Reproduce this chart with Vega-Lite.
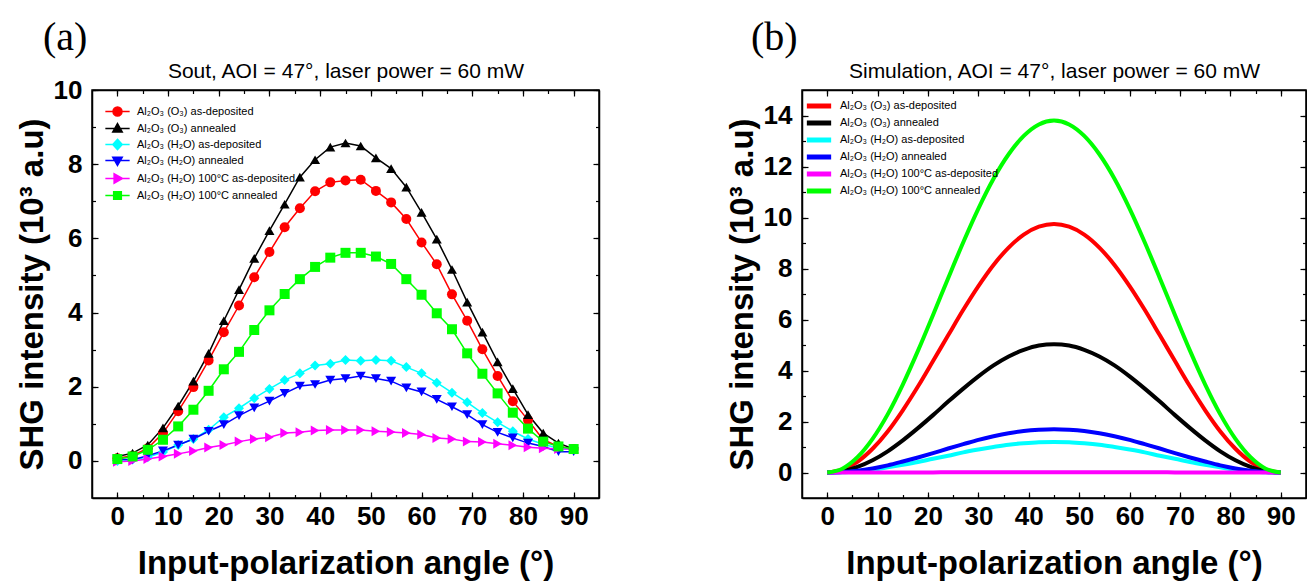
{
"$schema": "https://vega.github.io/schema/vega-lite/v6.json",
"padding": {"left": 15, "top": 17, "right": 0, "bottom": 0},
"spacing": 124,
"config": {
  "font": "Liberation Sans",
  "view": {"stroke": "black", "strokeWidth": 1.5},
  "axis": {"domainColor": "black", "domainWidth": 1.5, "tickColor": "black", "tickWidth": 1.2, "grid": false,
    "labelFont": "Liberation Sans", "labelFontWeight": "bold", "labelFontSize": 26, "labelColor": "black",
    "titleFont": "Liberation Sans", "titleFontWeight": "bold", "titleFontSize": 33, "titleColor": "black"},
  "legend": {"title": null, "orient": "top-left", "padding": 0, "labelFont": "Liberation Sans", "labelFontSize": 11, "labelColor": "black", "rowPadding": 5, "labelLimit": 400}
},
"datasets": {
"exp": [
{"a":0,"s":"1","v":0.07},{"a":3,"s":"1","v":0.14},{"a":6,"s":"1","v":0.34},{"a":9,"s":"1","v":0.75},{"a":12,"s":"1","v":1.34},{"a":15,"s":"1","v":1.99},{"a":18,"s":"1","v":2.71},{"a":21,"s":"1","v":3.47},{"a":24,"s":"1","v":4.19},{"a":27,"s":"1","v":4.95},{"a":30,"s":"1","v":5.63},{"a":33,"s":"1","v":6.30},{"a":36,"s":"1","v":6.81},{"a":39,"s":"1","v":7.27},{"a":42,"s":"1","v":7.51},{"a":45,"s":"1","v":7.56},{"a":48,"s":"1","v":7.58},{"a":51,"s":"1","v":7.28},{"a":54,"s":"1","v":6.97},{"a":57,"s":"1","v":6.52},{"a":60,"s":"1","v":5.89},{"a":63,"s":"1","v":5.30},{"a":66,"s":"1","v":4.49},{"a":69,"s":"1","v":3.78},{"a":72,"s":"1","v":3.01},{"a":75,"s":"1","v":2.29},{"a":78,"s":"1","v":1.61},{"a":81,"s":"1","v":1.10},{"a":84,"s":"1","v":0.57},{"a":87,"s":"1","v":0.39},{"a":90,"s":"1","v":0.32},
{"a":0,"s":"2","v":0.12},{"a":3,"s":"2","v":0.21},{"a":6,"s":"2","v":0.43},{"a":9,"s":"2","v":0.89},{"a":12,"s":"2","v":1.48},{"a":15,"s":"2","v":2.15},{"a":18,"s":"2","v":2.90},{"a":21,"s":"2","v":3.78},{"a":24,"s":"2","v":4.62},{"a":27,"s":"2","v":5.46},{"a":30,"s":"2","v":6.21},{"a":33,"s":"2","v":6.92},{"a":36,"s":"2","v":7.65},{"a":39,"s":"2","v":8.12},{"a":42,"s":"2","v":8.46},{"a":45,"s":"2","v":8.57},{"a":48,"s":"2","v":8.49},{"a":51,"s":"2","v":8.17},{"a":54,"s":"2","v":7.88},{"a":57,"s":"2","v":7.38},{"a":60,"s":"2","v":6.70},{"a":63,"s":"2","v":5.98},{"a":66,"s":"2","v":5.16},{"a":69,"s":"2","v":4.28},{"a":72,"s":"2","v":3.47},{"a":75,"s":"2","v":2.67},{"a":78,"s":"2","v":1.95},{"a":81,"s":"2","v":1.25},{"a":84,"s":"2","v":0.75},{"a":87,"s":"2","v":0.48},{"a":90,"s":"2","v":0.32},
{"a":0,"s":"3","v":0.00},{"a":3,"s":"3","v":0.04},{"a":6,"s":"3","v":0.10},{"a":9,"s":"3","v":0.24},{"a":12,"s":"3","v":0.43},{"a":15,"s":"3","v":0.59},{"a":18,"s":"3","v":0.84},{"a":21,"s":"3","v":1.18},{"a":24,"s":"3","v":1.42},{"a":27,"s":"3","v":1.69},{"a":30,"s":"3","v":1.94},{"a":33,"s":"3","v":2.18},{"a":36,"s":"3","v":2.36},{"a":39,"s":"3","v":2.57},{"a":42,"s":"3","v":2.62},{"a":45,"s":"3","v":2.72},{"a":48,"s":"3","v":2.70},{"a":51,"s":"3","v":2.72},{"a":54,"s":"3","v":2.70},{"a":57,"s":"3","v":2.53},{"a":60,"s":"3","v":2.36},{"a":63,"s":"3","v":2.11},{"a":66,"s":"3","v":1.84},{"a":69,"s":"3","v":1.58},{"a":72,"s":"3","v":1.29},{"a":75,"s":"3","v":1.04},{"a":78,"s":"3","v":0.80},{"a":81,"s":"3","v":0.59},{"a":84,"s":"3","v":0.45},{"a":87,"s":"3","v":0.34},{"a":90,"s":"3","v":0.31},
{"a":0,"s":"4","v":0.05},{"a":3,"s":"4","v":0.03},{"a":6,"s":"4","v":0.14},{"a":9,"s":"4","v":0.27},{"a":12,"s":"4","v":0.43},{"a":15,"s":"4","v":0.59},{"a":18,"s":"4","v":0.80},{"a":21,"s":"4","v":0.98},{"a":24,"s":"4","v":1.22},{"a":27,"s":"4","v":1.43},{"a":30,"s":"4","v":1.61},{"a":33,"s":"4","v":1.82},{"a":36,"s":"4","v":2.02},{"a":39,"s":"4","v":2.06},{"a":42,"s":"4","v":2.18},{"a":45,"s":"4","v":2.22},{"a":48,"s":"4","v":2.29},{"a":51,"s":"4","v":2.22},{"a":54,"s":"4","v":2.15},{"a":57,"s":"4","v":1.97},{"a":60,"s":"4","v":1.86},{"a":63,"s":"4","v":1.66},{"a":66,"s":"4","v":1.46},{"a":69,"s":"4","v":1.25},{"a":72,"s":"4","v":0.98},{"a":75,"s":"4","v":0.77},{"a":78,"s":"4","v":0.62},{"a":81,"s":"4","v":0.48},{"a":84,"s":"4","v":0.39},{"a":87,"s":"4","v":0.25},{"a":90,"s":"4","v":0.25},
{"a":0,"s":"5","v":-0.02},{"a":3,"s":"5","v":0.00},{"a":6,"s":"5","v":0.05},{"a":9,"s":"5","v":0.12},{"a":12,"s":"5","v":0.19},{"a":15,"s":"5","v":0.27},{"a":18,"s":"5","v":0.36},{"a":21,"s":"5","v":0.43},{"a":24,"s":"5","v":0.52},{"a":27,"s":"5","v":0.59},{"a":30,"s":"5","v":0.64},{"a":33,"s":"5","v":0.75},{"a":36,"s":"5","v":0.77},{"a":39,"s":"5","v":0.82},{"a":42,"s":"5","v":0.83},{"a":45,"s":"5","v":0.83},{"a":48,"s":"5","v":0.83},{"a":51,"s":"5","v":0.80},{"a":54,"s":"5","v":0.78},{"a":57,"s":"5","v":0.75},{"a":60,"s":"5","v":0.71},{"a":63,"s":"5","v":0.62},{"a":66,"s":"5","v":0.59},{"a":69,"s":"5","v":0.52},{"a":72,"s":"5","v":0.51},{"a":75,"s":"5","v":0.46},{"a":78,"s":"5","v":0.42},{"a":81,"s":"5","v":0.37},{"a":84,"s":"5","v":0.34},{"a":87,"s":"5","v":0.32},{"a":90,"s":"5","v":0.32},
{"a":0,"s":"6","v":0.05},{"a":3,"s":"6","v":0.12},{"a":6,"s":"6","v":0.30},{"a":9,"s":"6","v":0.57},{"a":12,"s":"6","v":0.93},{"a":15,"s":"6","v":1.38},{"a":18,"s":"6","v":1.89},{"a":21,"s":"6","v":2.47},{"a":24,"s":"6","v":2.94},{"a":27,"s":"6","v":3.53},{"a":30,"s":"6","v":4.06},{"a":33,"s":"6","v":4.50},{"a":36,"s":"6","v":4.90},{"a":39,"s":"6","v":5.23},{"a":42,"s":"6","v":5.48},{"a":45,"s":"6","v":5.61},{"a":48,"s":"6","v":5.61},{"a":51,"s":"6","v":5.51},{"a":54,"s":"6","v":5.31},{"a":57,"s":"6","v":4.90},{"a":60,"s":"6","v":4.48},{"a":63,"s":"6","v":3.98},{"a":66,"s":"6","v":3.55},{"a":69,"s":"6","v":2.90},{"a":72,"s":"6","v":2.35},{"a":75,"s":"6","v":1.82},{"a":78,"s":"6","v":1.30},{"a":81,"s":"6","v":0.87},{"a":84,"s":"6","v":0.52},{"a":87,"s":"6","v":0.39},{"a":90,"s":"6","v":0.32}
],
"sim": [
{"a":0,"s":"1","v":0},{"a":3,"s":"1","v":0.11},{"a":6,"s":"1","v":0.42},{"a":9,"s":"1","v":0.93},{"a":12,"s":"1","v":1.61},{"a":15,"s":"1","v":2.44},{"a":18,"s":"1","v":3.37},{"a":21,"s":"1","v":4.37},{"a":24,"s":"1","v":5.38},{"a":27,"s":"1","v":6.38},{"a":30,"s":"1","v":7.31},{"a":33,"s":"1","v":8.14},{"a":36,"s":"1","v":8.82},{"a":39,"s":"1","v":9.33},{"a":42,"s":"1","v":9.64},{"a":45,"s":"1","v":9.75},{"a":48,"s":"1","v":9.64},{"a":51,"s":"1","v":9.33},{"a":54,"s":"1","v":8.82},{"a":57,"s":"1","v":8.14},{"a":60,"s":"1","v":7.31},{"a":63,"s":"1","v":6.38},{"a":66,"s":"1","v":5.38},{"a":69,"s":"1","v":4.37},{"a":72,"s":"1","v":3.37},{"a":75,"s":"1","v":2.44},{"a":78,"s":"1","v":1.61},{"a":81,"s":"1","v":0.93},{"a":84,"s":"1","v":0.42},{"a":87,"s":"1","v":0.11},{"a":90,"s":"1","v":0},
{"a":0,"s":"2","v":0},{"a":3,"s":"2","v":0.05},{"a":6,"s":"2","v":0.22},{"a":9,"s":"2","v":0.48},{"a":12,"s":"2","v":0.83},{"a":15,"s":"2","v":1.26},{"a":18,"s":"2","v":1.74},{"a":21,"s":"2","v":2.25},{"a":24,"s":"2","v":2.78},{"a":27,"s":"2","v":3.29},{"a":30,"s":"2","v":3.77},{"a":33,"s":"2","v":4.20},{"a":36,"s":"2","v":4.55},{"a":39,"s":"2","v":4.81},{"a":42,"s":"2","v":4.98},{"a":45,"s":"2","v":5.03},{"a":48,"s":"2","v":4.98},{"a":51,"s":"2","v":4.81},{"a":54,"s":"2","v":4.55},{"a":57,"s":"2","v":4.20},{"a":60,"s":"2","v":3.77},{"a":63,"s":"2","v":3.29},{"a":66,"s":"2","v":2.78},{"a":69,"s":"2","v":2.25},{"a":72,"s":"2","v":1.74},{"a":75,"s":"2","v":1.26},{"a":78,"s":"2","v":0.83},{"a":81,"s":"2","v":0.48},{"a":84,"s":"2","v":0.22},{"a":87,"s":"2","v":0.05},{"a":90,"s":"2","v":0},
{"a":0,"s":"3","v":0},{"a":3,"s":"3","v":0.01},{"a":6,"s":"3","v":0.05},{"a":9,"s":"3","v":0.11},{"a":12,"s":"3","v":0.20},{"a":15,"s":"3","v":0.30},{"a":18,"s":"3","v":0.41},{"a":21,"s":"3","v":0.54},{"a":24,"s":"3","v":0.66},{"a":27,"s":"3","v":0.79},{"a":30,"s":"3","v":0.90},{"a":33,"s":"3","v":1.00},{"a":36,"s":"3","v":1.09},{"a":39,"s":"3","v":1.15},{"a":42,"s":"3","v":1.19},{"a":45,"s":"3","v":1.20},{"a":48,"s":"3","v":1.19},{"a":51,"s":"3","v":1.15},{"a":54,"s":"3","v":1.09},{"a":57,"s":"3","v":1.00},{"a":60,"s":"3","v":0.90},{"a":63,"s":"3","v":0.79},{"a":66,"s":"3","v":0.66},{"a":69,"s":"3","v":0.54},{"a":72,"s":"3","v":0.41},{"a":75,"s":"3","v":0.30},{"a":78,"s":"3","v":0.20},{"a":81,"s":"3","v":0.11},{"a":84,"s":"3","v":0.05},{"a":87,"s":"3","v":0.01},{"a":90,"s":"3","v":0},
{"a":0,"s":"4","v":0},{"a":3,"s":"4","v":0.02},{"a":6,"s":"4","v":0.07},{"a":9,"s":"4","v":0.16},{"a":12,"s":"4","v":0.28},{"a":15,"s":"4","v":0.43},{"a":18,"s":"4","v":0.59},{"a":21,"s":"4","v":0.76},{"a":24,"s":"4","v":0.94},{"a":27,"s":"4","v":1.11},{"a":30,"s":"4","v":1.28},{"a":33,"s":"4","v":1.42},{"a":36,"s":"4","v":1.54},{"a":39,"s":"4","v":1.63},{"a":42,"s":"4","v":1.68},{"a":45,"s":"4","v":1.70},{"a":48,"s":"4","v":1.68},{"a":51,"s":"4","v":1.63},{"a":54,"s":"4","v":1.54},{"a":57,"s":"4","v":1.42},{"a":60,"s":"4","v":1.28},{"a":63,"s":"4","v":1.11},{"a":66,"s":"4","v":0.94},{"a":69,"s":"4","v":0.76},{"a":72,"s":"4","v":0.59},{"a":75,"s":"4","v":0.43},{"a":78,"s":"4","v":0.28},{"a":81,"s":"4","v":0.16},{"a":84,"s":"4","v":0.07},{"a":87,"s":"4","v":0.02},{"a":90,"s":"4","v":0},
{"a":0,"s":"5","v":0},{"a":3,"s":"5","v":0},{"a":6,"s":"5","v":0},{"a":9,"s":"5","v":0},{"a":12,"s":"5","v":0},{"a":15,"s":"5","v":0},{"a":18,"s":"5","v":0},{"a":21,"s":"5","v":0},{"a":24,"s":"5","v":0.01},{"a":27,"s":"5","v":0.01},{"a":30,"s":"5","v":0.01},{"a":33,"s":"5","v":0.01},{"a":36,"s":"5","v":0.01},{"a":39,"s":"5","v":0.01},{"a":42,"s":"5","v":0.01},{"a":45,"s":"5","v":0.01},{"a":48,"s":"5","v":0.01},{"a":51,"s":"5","v":0.01},{"a":54,"s":"5","v":0.01},{"a":57,"s":"5","v":0.01},{"a":60,"s":"5","v":0.01},{"a":63,"s":"5","v":0.01},{"a":66,"s":"5","v":0.01},{"a":69,"s":"5","v":0},{"a":72,"s":"5","v":0},{"a":75,"s":"5","v":0},{"a":78,"s":"5","v":0},{"a":81,"s":"5","v":0},{"a":84,"s":"5","v":0},{"a":87,"s":"5","v":0},{"a":90,"s":"5","v":0},
{"a":0,"s":"6","v":0},{"a":3,"s":"6","v":0.15},{"a":6,"s":"6","v":0.60},{"a":9,"s":"6","v":1.32},{"a":12,"s":"6","v":2.28},{"a":15,"s":"6","v":3.45},{"a":18,"s":"6","v":4.77},{"a":21,"s":"6","v":6.18},{"a":24,"s":"6","v":7.62},{"a":27,"s":"6","v":9.03},{"a":30,"s":"6","v":10.35},{"a":33,"s":"6","v":11.52},{"a":36,"s":"6","v":12.48},{"a":39,"s":"6","v":13.20},{"a":42,"s":"6","v":13.65},{"a":45,"s":"6","v":13.80},{"a":48,"s":"6","v":13.65},{"a":51,"s":"6","v":13.20},{"a":54,"s":"6","v":12.48},{"a":57,"s":"6","v":11.52},{"a":60,"s":"6","v":10.35},{"a":63,"s":"6","v":9.03},{"a":66,"s":"6","v":7.62},{"a":69,"s":"6","v":6.18},{"a":72,"s":"6","v":4.77},{"a":75,"s":"6","v":3.45},{"a":78,"s":"6","v":2.28},{"a":81,"s":"6","v":1.32},{"a":84,"s":"6","v":0.60},{"a":87,"s":"6","v":0.15},{"a":90,"s":"6","v":0}
]
},
"hconcat": [
{
  "width": 507, "height": 408,
  "data": {"name": "exp"},
  "title": {"text": "(a)", "anchor": "start", "frame": "group", "dx": -49, "font": "Liberation Serif", "fontSize": 40, "fontWeight": "normal", "color": "black", "offset": 2},
  "layer": [
    {"mark": {"type": "line", "strokeWidth": 1.5},
     "encoding": {
       "x": {"field": "a", "type": "quantitative", "scale": {"domain": [-5, 95], "nice": false, "zero": false},
             "axis": {"orient": "bottom", "values": [0,10,20,30,40,50,60,70,80,90], "tickSize": -6, "labelPadding": 11, "title": "Input-polarization angle (°)", "titlePadding": 18}},
       "y": {"field": "v", "type": "quantitative", "scale": {"domain": [-1, 10], "nice": false, "zero": false},
             "axis": {"orient": "left", "values": [0,2,4,6,8,10], "tickSize": -6, "labelPadding": 16, "title": "SHG intensity (10³ a.u)", "titlePadding": 4}},
       "stroke": {"field": "s", "type": "nominal", "scale": {"domain": ["1","2","3","4","5","6"], "range": ["#ff0000","#000000","#00ffff","#0000ff","#ff00ff","#00ff00"]}, "legend": null}
     }},
    {"mark": {"type": "point", "filled": true, "size": 100, "opacity": 1},
     "encoding": {
       "x": {"field": "a", "type": "quantitative", "axis": null},
       "y": {"field": "v", "type": "quantitative", "axis": null},
       "fill": {"field": "s", "type": "nominal", "scale": {"domain": ["1","2","3","4","5","6"], "range": ["#ff0000","#000000","#00ffff","#0000ff","#ff00ff","#00ff00"]}, "legend": null},
       "shape": {"field": "s", "type": "nominal", "scale": {"domain": ["1","2","3","4","5","6"], "range": ["circle","triangle-up","diamond","triangle-down","triangle-right","square"]}, "legend": null}
     }},
    {"transform": [{"filter": "datum.a < -100"}],
     "mark": {"type": "point", "filled": true, "opacity": 1},
     "encoding": {
       "x": {"field": "a", "type": "quantitative", "axis": null},
       "y": {"field": "v", "type": "quantitative", "axis": null},
       "color": {"field": "s", "type": "nominal", "scale": {"domain": ["1","2","3","4","5","6"], "range": ["#ff0000","#000000","#00ffff","#0000ff","#ff00ff","#00ff00"]},
          "legend": {"offset": 16, "symbolOffset": 4, "symbolSize": 81, "symbolStrokeWidth": 1.5, "labelOffset": 14, "rowPadding": 1,
          "labelExpr": "datum.value==='1'?'Al₂O₃ (O₃) as-deposited':datum.value==='2'?'Al₂O₃ (O₃) annealed':datum.value==='3'?'Al₂O₃ (H₂O) as-deposited':datum.value==='4'?'Al₂O₃ (H₂O) annealed':datum.value==='5'?'Al₂O₃ (H₂O) 100°C as-deposited':'Al₂O₃ (H₂O) 100°C annealed'"}},
       "stroke": {"field": "s", "type": "nominal", "scale": {"domain": ["1","2","3","4","5","6"], "range": ["#ff0000","#000000","#00ffff","#0000ff","#ff00ff","#00ff00"]},
          "legend": {"offset": 16, "symbolOffset": 4, "symbolSize": 81, "symbolStrokeWidth": 1.5, "labelOffset": 14, "rowPadding": 1,
          "labelExpr": "datum.value==='1'?'Al₂O₃ (O₃) as-deposited':datum.value==='2'?'Al₂O₃ (O₃) annealed':datum.value==='3'?'Al₂O₃ (H₂O) as-deposited':datum.value==='4'?'Al₂O₃ (H₂O) annealed':datum.value==='5'?'Al₂O₃ (H₂O) 100°C as-deposited':'Al₂O₃ (H₂O) 100°C annealed'"}},
       "shape": {"field": "s", "type": "nominal", "scale": {"domain": ["1","2","3","4","5","6"], "range": [
            "M-2.7,0L2.7,0M1,0A1,1,0,1,1,-1,0A1,1,0,1,1,1,0Z",
            "M-2.7,0L2.7,0M0,-1.1L1.05,0.75L-1.05,0.75Z",
            "M-2.7,0L2.7,0M0,-1.15L1.05,0L0,1.15L-1.05,0Z",
            "M-2.7,0L2.7,0M0,1.1L1.05,-0.75L-1.05,-0.75Z",
            "M-2.7,0L2.7,0M1.1,0L-0.75,-1.05L-0.75,1.05Z",
            "M-2.7,0L2.7,0M-0.85,-0.85L0.85,-0.85L0.85,0.85L-0.85,0.85Z"]},
          "legend": {"offset": 16, "symbolOffset": 4, "symbolSize": 81, "symbolStrokeWidth": 1.5, "labelOffset": 14, "rowPadding": 1,
          "labelExpr": "datum.value==='1'?'Al₂O₃ (O₃) as-deposited':datum.value==='2'?'Al₂O₃ (O₃) annealed':datum.value==='3'?'Al₂O₃ (H₂O) as-deposited':datum.value==='4'?'Al₂O₃ (H₂O) annealed':datum.value==='5'?'Al₂O₃ (H₂O) 100°C as-deposited':'Al₂O₃ (H₂O) 100°C annealed'"}}
     }},
    {"mark": {"type": "point", "opacity": 0},
     "encoding": {
       "x": {"field": "a", "type": "quantitative", "axis": {"orient": "bottom", "values": [0,5,10,15,20,25,30,35,40,45,50,55,60,65,70,75,80,85,90], "tickSize": -3.5, "labels": false, "domain": false, "title": null}},
       "y": {"field": "v", "type": "quantitative", "axis": {"orient": "left", "values": [0,1,2,3,4,5,6,7,8,9,10], "tickSize": -3.5, "labels": false, "domain": false, "title": null}}
     }},
    {"mark": {"type": "point", "opacity": 0},
     "encoding": {
       "x": {"field": "a", "type": "quantitative", "axis": {"orient": "top", "values": [0,10,20,30,40,50,60,70,80,90], "tickSize": -6, "labels": false, "title": "Sout, AOI = 47°, laser power = 60 mW", "titleFontWeight": "normal", "titleFontSize": 21, "titlePadding": 8}},
       "y": {"field": "v", "type": "quantitative", "axis": {"orient": "right", "values": [0,2,4,6,8,10], "tickSize": -6, "labels": false, "title": null}}
     }},
    {"mark": {"type": "point", "opacity": 0},
     "encoding": {
       "x": {"field": "a", "type": "quantitative", "axis": {"orient": "top", "values": [0,5,10,15,20,25,30,35,40,45,50,55,60,65,70,75,80,85,90], "tickSize": -3.5, "labels": false, "domain": false, "title": null}},
       "y": {"field": "v", "type": "quantitative", "axis": {"orient": "right", "values": [0,1,2,3,4,5,6,7,8,9,10], "tickSize": -3.5, "labels": false, "domain": false, "title": null}}
     }}
  ],
  "resolve": {"axis": {"x": "independent", "y": "independent"}, "scale": {"stroke": "independent", "fill": "independent", "shape": "independent", "color": "independent"}}
},
{
  "width": 504, "height": 408,
  "data": {"name": "sim"},
  "title": {"text": "(b)", "anchor": "start", "frame": "group", "dx": -51, "font": "Liberation Serif", "fontSize": 40, "fontWeight": "normal", "color": "black", "offset": 2},
  "layer": [
    {"mark": {"type": "line", "strokeWidth": 4, "interpolate": "monotone"},
     "encoding": {
       "x": {"field": "a", "type": "quantitative", "scale": {"domain": [-5, 95], "nice": false, "zero": false},
             "axis": {"orient": "bottom", "values": [0,10,20,30,40,50,60,70,80,90], "tickSize": -6, "labelPadding": 11, "title": "Input-polarization angle (°)", "titlePadding": 18}},
       "y": {"field": "v", "type": "quantitative", "scale": {"domain": [-1, 15], "nice": false, "zero": false},
             "axis": {"orient": "left", "values": [0,2,4,6,8,10,12,14], "tickSize": -6, "labelPadding": 16, "title": "SHG intensity (10³ a.u)", "titlePadding": 4}},
       "color": {"field": "s", "type": "nominal", "scale": {"domain": ["1","2","3","4","5","6"], "range": ["#ff0000","#000000","#00ffff","#0000ff","#ff00ff","#00ff00"]},
         "legend": {"offset": 9, "symbolOffset": 1, "symbolType": "M-2.7,0L2.7,0", "symbolSize": 81, "symbolStrokeWidth": 5, "labelOffset": 14, "rowPadding": -6,
          "labelExpr": "datum.value==='1'?'Al₂O₃ (O₃) as-deposited':datum.value==='2'?'Al₂O₃ (O₃) annealed':datum.value==='3'?'Al₂O₃ (H₂O) as-deposited':datum.value==='4'?'Al₂O₃ (H₂O) annealed':datum.value==='5'?'Al₂O₃ (H₂O) 100°C as-deposited':'Al₂O₃ (H₂O) 100°C annealed'",
          "encode": {"symbols": {"update": {"size": {"value": 81}, "strokeWidth": {"value": 5}}}}}}
     }},
    {"mark": {"type": "point", "opacity": 0},
     "encoding": {
       "x": {"field": "a", "type": "quantitative", "axis": {"orient": "bottom", "values": [0,5,10,15,20,25,30,35,40,45,50,55,60,65,70,75,80,85,90], "tickSize": -3.5, "labels": false, "domain": false, "title": null}},
       "y": {"field": "v", "type": "quantitative", "axis": {"orient": "left", "values": [0,1,2,3,4,5,6,7,8,9,10,11,12,13,14], "tickSize": -3.5, "labels": false, "domain": false, "title": null}}
     }},
    {"mark": {"type": "point", "opacity": 0},
     "encoding": {
       "x": {"field": "a", "type": "quantitative", "axis": {"orient": "top", "values": [0,10,20,30,40,50,60,70,80,90], "tickSize": -6, "labels": false, "title": "Simulation, AOI = 47°, laser power = 60 mW", "titleFontWeight": "normal", "titleFontSize": 21, "titlePadding": 8}},
       "y": {"field": "v", "type": "quantitative", "axis": {"orient": "right", "values": [0,2,4,6,8,10,12,14], "tickSize": -6, "labels": false, "title": null}}
     }},
    {"mark": {"type": "point", "opacity": 0},
     "encoding": {
       "x": {"field": "a", "type": "quantitative", "axis": {"orient": "top", "values": [0,5,10,15,20,25,30,35,40,45,50,55,60,65,70,75,80,85,90], "tickSize": -3.5, "labels": false, "domain": false, "title": null}},
       "y": {"field": "v", "type": "quantitative", "axis": {"orient": "right", "values": [0,1,2,3,4,5,6,7,8,9,10,11,12,13,14], "tickSize": -3.5, "labels": false, "domain": false, "title": null}}
     }}
  ],
  "resolve": {"axis": {"x": "independent", "y": "independent"}}
}
],
"resolve": {"scale": {"color": "independent", "shape": "independent", "fill": "independent", "stroke": "independent"}}
}
